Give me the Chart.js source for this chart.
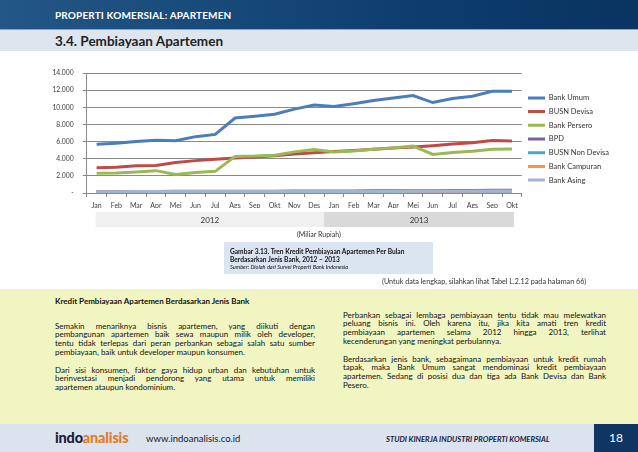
<!DOCTYPE html>
<html><head><meta charset="utf-8">
<script src="https://cdn.jsdelivr.net/npm/chart.js@4.4.0/dist/chart.umd.min.js"></script>
<style>
html,body{margin:0;padding:0;}
body{width:638px;height:452px;position:relative;overflow:hidden;background:#fff;font-family:Lato,"Open Sans",sans-serif;color:#1a1a1a;}
.abs{position:absolute;white-space:nowrap;}
#hdr{left:0;top:0;width:638px;height:29px;background:linear-gradient(90deg,#235786 0%,#154777 40%,#0c3a69 75%,#0a3461 100%);}
#hdr2{left:0;top:29px;width:638px;height:21px;background:#dde5ef;border-top:1px solid #8aa6c6;}
#t1{left:55px;top:8px;font-size:10px;font-weight:bold;color:#fff;line-height:14px;letter-spacing:0.15px;}
#t2{left:55px;top:32px;font-size:13.5px;font-weight:bold;color:#222;line-height:18px;}
#chartWrap{left:40px;top:60px;}
#miliar{left:297px;top:229px;font-size:7px;color:#333;line-height:10px;}
#cap{left:224px;top:242px;width:209px;height:32px;background:#dbe5f1;}
#cap div{position:absolute;left:6px;white-space:nowrap;color:#111;}
#lengkap{left:382px;top:277px;font-size:7.2px;color:#333;line-height:10px;}
#panel{left:0;top:289px;width:638px;height:135px;background:#f0f5c1;}
.col{position:absolute;font-size:8px;line-height:8.67px;color:#111;}
.col div{white-space:nowrap;}
.j{text-align:justify;text-align-last:justify;white-space:normal !important;}
#foot{left:0;top:424px;width:638px;height:28px;background:#dbe3ee;}
#pg{left:594px;top:424px;width:44px;height:28px;background:#0f3662;color:#fff;font-size:12px;line-height:28px;text-align:center;}
#logo{left:55px;top:429px;font-size:14.5px;font-weight:900;line-height:18px;color:#1c1c3a;letter-spacing:-0.2px;}
#logo span{color:#ea7a22;}
#url{left:146px;top:433px;font-size:9.5px;color:#1a1a1a;line-height:12px;}
#studi{left:386px;top:434px;font-size:7.6px;font-weight:bold;font-style:italic;color:#1a1a3a;line-height:10px;}
</style></head>
<body>
<div id="hdr" class="abs"></div>
<div id="hdr2" class="abs"></div>
<div id="t1" class="abs">PROPERTI KOMERSIAL: APARTEMEN</div>
<div id="t2" class="abs">3.4. Pembiayaan Apartemen</div>
<div id="chartWrap" class="abs"><canvas id="c" width="579" height="180"></canvas></div>
<div id="miliar" class="abs">(Miliar Rupiah)</div>
<div id="cap" class="abs">
  <div style="top:5px;font-size:6.6px;font-weight:bold;line-height:8px;">Gambar 3.13. Tren Kredit Pembiayaan Apartemen Per Bulan</div>
  <div style="top:13px;font-size:6.6px;font-weight:bold;line-height:8px;">Berdasarkan Jenis Bank, 2012 – 2013</div>
  <div style="top:21px;font-size:5.6px;font-style:italic;line-height:7px;">Sumber: Diolah dari Survei Properti Bank Indonesia</div>
</div>
<div id="lengkap" class="abs">(Untuk data lengkap, silahkan lihat Tabel L.2.12 pada halaman 66)</div>
<div id="panel" class="abs"></div>
<div class="col" style="left:55px;top:297px;width:260px;font-weight:bold;"><div>Kredit Pembiayaan Apartemen Berdasarkan Jenis Bank</div></div>
<div class="col" style="left:55px;top:321.5px;width:260px;">
  <div class="j">Semakin menariknya bisnis apartemen, yang diikuti dengan</div>
  <div class="j">pembangunan apartemen baik sewa maupun milik oleh developer,</div>
  <div class="j">tentu tidak terlepas dari peran perbankan sebagai salah satu sumber</div>
  <div>pembiayaan, baik untuk developer maupun konsumen.</div>
</div>
<div class="col" style="left:55px;top:365.5px;width:260px;">
  <div class="j">Dari sisi konsumen, faktor gaya hidup urban dan kebutuhan untuk</div>
  <div class="j">berinvestasi menjadi pendorong yang utama untuk memiliki</div>
  <div>apartemen ataupun kondominium.</div>
</div>
<div class="col" style="left:343px;top:310.5px;width:263px;">
  <div class="j">Perbankan sebagai lembaga pembiayaan tentu tidak mau melewatkan</div>
  <div class="j">peluang bisnis ini. Oleh karena itu, jika kita amati tren kredit</div>
  <div class="j">pembiayaan apartemen selama 2012 hingga 2013, terlihat</div>
  <div>kecenderungan yang meningkat perbulannya.</div>
</div>
<div class="col" style="left:343px;top:354.5px;width:263px;">
  <div class="j">Berdasarkan jenis bank, sebagaimana pembiayaan untuk kredit rumah</div>
  <div class="j">tapak, maka Bank Umum sangat mendominasi kredit pembiayaan</div>
  <div class="j">apartemen. Sedang di posisi dua dan tiga ada Bank Devisa dan Bank</div>
  <div>Pesero.</div>
</div>
<div id="foot" class="abs"></div>
<div id="logo" class="abs">indo<span>analisis</span></div>
<div id="url" class="abs">www.indoanalisis.co.id</div>
<div id="studi" class="abs">STUDI KINERJA INDUSTRI PROPERTI KOMERSIAL</div>
<div id="pg" class="abs">18</div>
<script>
const months = ['Jan','Feb','Mar','Apr','Mei','Jun','Jul','Ags','Sep','Okt','Nov','Des','Jan','Feb','Mar','Apr','Mei','Jun','Jul','Ags','Sep','Okt'];
const years = ['2012','2013'];
const monthsPerYear = [12, 10];
const yTickLabels = ['-','2.000','4.000','6.000','8.000','10.000','12.000','14.000'];
const seriesNames = ['Bank Umum','BUSN Devisa','Bank Persero','BPD','BUSN Non Devisa','Bank Campuran','Bank Asing'];
const bankUmum = [5700,5820,6000,6150,6100,6580,6840,8750,8960,9190,9790,10260,10100,10430,10800,11100,11380,10560,11040,11300,11880,11880];
const busnDevisa = [2950,3020,3180,3210,3550,3780,3930,4080,4200,4350,4540,4690,4840,4950,5100,5250,5370,5520,5710,5860,6120,6060];
const bankPersero = [2310,2340,2460,2610,2150,2380,2530,4270,4310,4420,4800,5070,4800,4910,5100,5250,5480,4500,4730,4880,5100,5140];
const bpd = [170,175,185,180,190,200,205,210,215,215,225,230,240,245,250,260,265,270,285,295,310,320];
const busnNonDevisa = [40,40,45,45,45,50,50,50,55,55,55,60,60,60,60,65,65,65,70,70,70,75];
const bankCampuran = [120,125,130,130,135,140,145,150,150,155,160,165,170,175,180,185,190,200,205,215,225,235];
const bankAsing = [160,160,165,165,170,170,170,175,175,175,180,180,180,185,185,185,190,190,190,195,195,200];
const seriesValues = [bankUmum,busnDevisa,bankPersero,bpd,busnNonDevisa,bankCampuran,bankAsing];
const seriesColors = ['#4a7ebb','#be4b48','#98b954','#7d60a0','#46aac5','#f69545','#9fb4d6'];
const bandColors = ['#f0f0f0','#d9d9d9'];

const yearBands = {
  id: 'yearBands',
  afterDraw(chart) {
    const xs = chart.scales.x, ctx = chart.ctx;
    const top = chart.chartArea.bottom + 19, h = 15;
    let start = 0;
    years.forEach((yr, k) => {
      const end = start + monthsPerYear[k] - 1;
      const l = k === 0 ? xs.getPixelForValue(start) - 1 : (xs.getPixelForValue(start - 1) + xs.getPixelForValue(start)) / 2;
      const r = k === years.length - 1 ? xs.getPixelForValue(end) + 2 : (xs.getPixelForValue(end) + xs.getPixelForValue(end + 1)) / 2;
      ctx.save();
      ctx.fillStyle = bandColors[k];
      ctx.fillRect(l, top, r - l, h);
      ctx.fillStyle = '#333';
      ctx.font = '8px Lato';
      ctx.textAlign = 'center';
      ctx.textBaseline = 'middle';
      ctx.fillText(yr, (l + r) / 2, top + h / 2 + 0.5);
      ctx.restore();
      start = end + 1;
    });
  }
};

new Chart(document.getElementById('c'), {
  type: 'line',
  data: {
    labels: months,
    datasets: seriesNames.map((n, i) => ({
      label: n,
      data: seriesValues[i],
      borderColor: seriesColors[i],
      backgroundColor: seriesColors[i],
      borderWidth: 3,
      pointRadius: 0,
      tension: 0,
      fill: false,
      order: 7 - i
    }))
  },
  options: {
    responsive: false,
    devicePixelRatio: 1,
    animation: false,
    layout: { padding: { top: 10, bottom: 32, left: 0, right: 0 } },
    plugins: {
      tooltip: { enabled: false },
      legend: {
        position: 'right',
        align: 'center',
        labels: {
          usePointStyle: true,
          pointStyle: 'line',
          pointStyleWidth: 17,
          padding: 6.2,
          color: '#333',
          font: { size: 7.5, family: 'Lato' },
          sort: (a, b) => a.datasetIndex - b.datasetIndex
        }
      }
    },
    scales: {
      x: {
        type: 'category',
        offset: true,
        grid: { offset: true, drawOnChartArea: false, drawTicks: true, tickLength: 4, color: '#8a8a8a' },
        border: { color: '#8a8a8a' },
        ticks: { autoSkip: false, maxRotation: 0, padding: 5, color: '#404040', font: { size: 7, family: 'Lato' } },
        afterFit: s => { s.height = 15; }
      },
      y: {
        min: 0, max: 14000,
        grid: { color: '#8a8a8a', drawTicks: true, tickLength: 4 },
        border: { color: '#8a8a8a' },
        ticks: { stepSize: 2000, padding: 9, color: '#404040', font: { size: 6.8, family: 'Lato' },
                 callback: (v, i) => yTickLabels[i] },
        afterFit: s => { s.width = 46.7; }
      }
    }
  },
  plugins: [yearBands]
});
</script>
</body></html>
